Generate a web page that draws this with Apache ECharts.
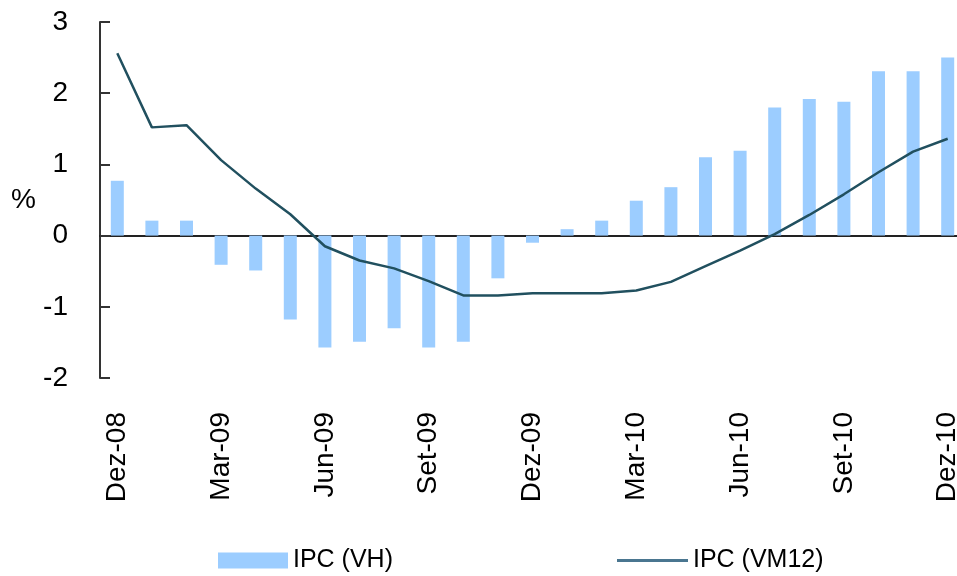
<!DOCTYPE html>
<html>
<head>
<meta charset="utf-8">
<title>IPC</title>
<script src="https://cdn.jsdelivr.net/npm/echarts@6/dist/echarts.min.js"></script>
<style>
  html, body { margin: 0; padding: 0; background: #fff; }
  #chart { width: 957px; height: 576px; }
</style>
</head>
<body>
<div id="chart"></div>
<script>
// dados
const months = [
  'Dez-08', 'Jan-09', 'Fev-09', 'Mar-09', 'Abr-09', 'Mai-09', 'Jun-09',
  'Jul-09', 'Ago-09', 'Set-09', 'Out-09', 'Nov-09', 'Dez-09',
  'Jan-10', 'Fev-10', 'Mar-10', 'Abr-10', 'Mai-10', 'Jun-10',
  'Jul-10', 'Ago-10', 'Set-10', 'Out-10', 'Nov-10', 'Dez-10'
]
const ipcVH = [
  0.77, 0.21, 0.21, -0.41, -0.49, -1.18, -1.57, -1.49, -1.30, -1.57, -1.49, -0.60, -0.10,
  0.09, 0.21, 0.49, 0.68, 1.10, 1.19, 1.80, 1.92, 1.88, 2.31, 2.31, 2.50
]
const ipcVM12 = [
  2.56, 1.52, 1.55, 1.06, 0.66, 0.30, -0.15, -0.35, -0.46, -0.64, -0.84, -0.84, -0.81,
  -0.81, -0.81, -0.77, -0.65, -0.43, -0.21, 0.02, 0.29, 0.58, 0.89, 1.18, 1.36
]
const yTicks = [-2, -1, 0, 1, 2, 3]

const myChart = echarts.init(document.getElementById('chart'))

const legendText = { fontSize: 25, color: '#000' }

myChart.setOption({
  animation: false,
  textStyle: { fontFamily: 'Liberation Sans, Arial, sans-serif', color: '#000' },
  // a grelha passa um pouco da borda direita, como no original
  grid: { left: 100, top: 22, height: 356, width: 865, outerBoundsMode: 'none', containLabel: false },
  legend: [
    {
      left: 213,
      top: 543,
      itemWidth: 70,
      itemHeight: 16,
      itemGap: 9,
      textStyle: legendText,
      data: [{ name: 'IPC (VH)', icon: 'rect' }]
    },
    {
      left: 612,
      top: 543,
      itemWidth: 71,
      itemHeight: 3,
      textStyle: legendText,
      data: [{ name: 'IPC (VM12)', icon: 'rect' }]
    }
  ],
  xAxis: [
    {
      type: 'category',
      data: months,
      axisLine: { show: false, onZero: false },
      axisTick: { show: false },
      axisLabel: {
        interval: 2,
        rotate: 90,
        margin: 34,
        fontSize: 28,
        color: '#000'
      }
    },
    {
      // linha do zero
      type: 'category',
      data: months,
      position: 'bottom',
      axisLine: { show: true, onZero: true, lineStyle: { color: '#222', width: 2 } },
      axisTick: { show: false },
      axisLabel: { show: false }
    }
  ],
  yAxis: {
    type: 'value',
    min: yTicks[0],
    max: yTicks[yTicks.length - 1],
    interval: 1,
    name: '%',
    nameLocation: 'middle',
    nameRotate: 0,
    nameGap: 64,
    nameTextStyle: { fontSize: 28, color: '#000' },
    axisLine: { show: true, lineStyle: { color: '#333', width: 2 } },
    axisTick: { show: true, inside: true, length: 10, lineStyle: { color: '#333', width: 2 } },
    axisLabel: { fontSize: 28, margin: 32, color: '#000' },
    splitLine: { show: false }
  },
  series: [
    {
      name: 'IPC (VH)',
      type: 'bar',
      data: ipcVH,
      barWidth: 13,
      itemStyle: { color: '#9ccdff' }
    },
    {
      name: 'IPC (VM12)',
      type: 'line',
      data: ipcVM12,
      symbol: 'none',
      smooth: false,
      lineStyle: { color: '#21505f', width: 2.5 },
      itemStyle: { color: '#4a7690' }
    }
  ]
})
</script>
</body>
</html>
